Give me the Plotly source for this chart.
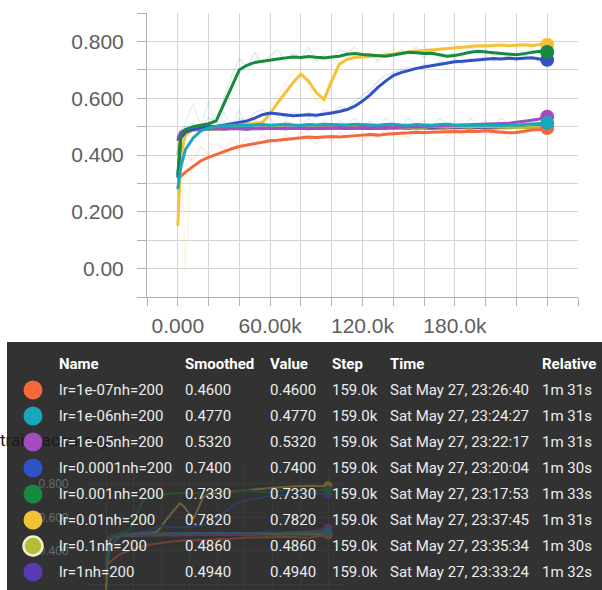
import plotly.graph_objects as go

# ---------------------------------------------------------------- data
steps_k = [0, 2, 5, 10, 15, 20, 25, 30, 35, 40,
           45, 50, 55, 60, 65, 70, 75, 80, 85, 90,
           95, 100, 105, 110, 115, 120, 125, 130, 135, 140,
           145, 150, 155, 160, 165, 170, 175, 180, 185, 190,
           195, 200, 205, 210, 215, 220, 225, 230, 235, 240]
steps = [s * 1000 for s in steps_k]

run_names = ["lr=1e-07nh=200", "lr=1e-06nh=200", "lr=1e-05nh=200", "lr=0.0001nh=200",
             "lr=0.001nh=200", "lr=0.01nh=200", "lr=0.1nh=200", "lr=1nh=200"]
run_colors = ["#f4683c", "#19a7bd", "#a64bbf", "#3152c6",
              "#168a3e", "#f3c13a", "#b3bd35", "#5a3ab3"]

smooth_lr1e7 = [0.315, 0.325, 0.340, 0.360, 0.380, 0.392, 0.403, 0.412, 0.422, 0.430,
                0.435, 0.440, 0.445, 0.450, 0.452, 0.455, 0.458, 0.462, 0.463, 0.462,
                0.464, 0.465, 0.463, 0.466, 0.468, 0.470, 0.472, 0.470, 0.473, 0.476,
                0.477, 0.478, 0.480, 0.479, 0.480, 0.482, 0.481, 0.483, 0.482, 0.484,
                0.483, 0.485, 0.483, 0.480, 0.478, 0.479, 0.484, 0.488, 0.490, 0.495]
smooth_lr1e6 = [0.280, 0.360, 0.420, 0.460, 0.485, 0.495, 0.500, 0.503, 0.505, 0.506,
                0.504, 0.506, 0.507, 0.505, 0.506, 0.508, 0.506, 0.505, 0.507, 0.506,
                0.508, 0.507, 0.505, 0.506, 0.508, 0.507, 0.506, 0.505, 0.507, 0.508,
                0.506, 0.505, 0.507, 0.506, 0.505, 0.507, 0.508, 0.506, 0.505, 0.504,
                0.506, 0.505, 0.503, 0.504, 0.506, 0.505, 0.507, 0.509, 0.511, 0.513]
smooth_lr1e5 = [0.460, 0.480, 0.487, 0.490, 0.491, 0.492, 0.493, 0.492, 0.494, 0.493,
                0.494, 0.493, 0.495, 0.494, 0.493, 0.495, 0.494, 0.496, 0.495, 0.494,
                0.496, 0.495, 0.497, 0.496, 0.495, 0.497, 0.496, 0.498, 0.497, 0.496,
                0.498, 0.499, 0.500, 0.501, 0.500, 0.502, 0.503, 0.504, 0.505, 0.506,
                0.507, 0.508, 0.509, 0.510, 0.512, 0.515, 0.518, 0.522, 0.527, 0.535]
smooth_lr1e4 = [0.320, 0.460, 0.480, 0.490, 0.495, 0.500, 0.500, 0.505, 0.510, 0.515,
                0.520, 0.530, 0.542, 0.548, 0.545, 0.540, 0.538, 0.540, 0.542, 0.540,
                0.543, 0.548, 0.553, 0.560, 0.572, 0.590, 0.612, 0.638, 0.660, 0.680,
                0.690, 0.698, 0.705, 0.710, 0.715, 0.720, 0.724, 0.728, 0.730, 0.733,
                0.736, 0.738, 0.740, 0.738, 0.741, 0.739, 0.740, 0.742, 0.738, 0.735]
smooth_lr1e3 = [0.330, 0.470, 0.490, 0.500, 0.505, 0.510, 0.520, 0.580, 0.640, 0.700,
                0.716, 0.726, 0.730, 0.735, 0.738, 0.742, 0.745, 0.743, 0.747, 0.744,
                0.742, 0.745, 0.748, 0.755, 0.757, 0.754, 0.752, 0.750, 0.748, 0.752,
                0.758, 0.762, 0.760, 0.757, 0.758, 0.752, 0.748, 0.750, 0.756, 0.762,
                0.765, 0.763, 0.760, 0.758, 0.755, 0.753, 0.757, 0.762, 0.765, 0.763]
smooth_lr1e2 = [0.150, 0.400, 0.470, 0.490, 0.495, 0.500, 0.500, 0.505, 0.505, 0.505,
                0.510, 0.510, 0.515, 0.545, 0.585, 0.620, 0.655, 0.685, 0.660, 0.620,
                0.595, 0.660, 0.720, 0.737, 0.743, 0.745, 0.747, 0.750, 0.752, 0.756,
                0.760, 0.762, 0.765, 0.767, 0.769, 0.771, 0.773, 0.776, 0.779, 0.782,
                0.785, 0.784, 0.786, 0.787, 0.785, 0.787, 0.788, 0.786, 0.789, 0.788]
smooth_lr1e1 = [0.400, 0.470, 0.480, 0.487, 0.490, 0.491, 0.492, 0.493, 0.492, 0.494,
                0.493, 0.494, 0.495, 0.494, 0.496, 0.495, 0.494, 0.496, 0.495, 0.497,
                0.496, 0.495, 0.497, 0.496, 0.498, 0.497, 0.496, 0.498, 0.497, 0.499,
                0.498, 0.497, 0.499, 0.498, 0.500, 0.499, 0.498, 0.500, 0.499, 0.498,
                0.500, 0.499, 0.498, 0.497, 0.496, 0.495, 0.496, 0.497, 0.498, 0.500]
smooth_lr1 = [0.450, 0.480, 0.488, 0.490, 0.491, 0.490, 0.492, 0.491, 0.493, 0.492,
              0.491, 0.493, 0.492, 0.494, 0.493, 0.492, 0.494, 0.493, 0.492, 0.494,
              0.493, 0.495, 0.494, 0.493, 0.495, 0.494, 0.493, 0.495, 0.494, 0.496,
              0.495, 0.494, 0.496, 0.495, 0.494, 0.496, 0.495, 0.497, 0.496, 0.495,
              0.497, 0.496, 0.495, 0.497, 0.496, 0.498, 0.497, 0.499, 0.500, 0.502]

raw_lr1e7 = [0.300, 0.340, 0.400, 0.380, 0.430, 0.400, 0.440, 0.420, 0.450, 0.430,
             0.460, 0.440, 0.470, 0.450, 0.440, 0.470, 0.450, 0.480, 0.460, 0.440,
             0.470, 0.450, 0.480, 0.460, 0.470, 0.450, 0.480, 0.460, 0.490, 0.470,
             0.480, 0.460, 0.490, 0.470, 0.480, 0.500, 0.470, 0.490, 0.470, 0.500,
             0.480, 0.490, 0.470, 0.480, 0.460, 0.490, 0.480, 0.500, 0.490, 0.500]
raw_lr1e6 = [0.260, 0.450, 0.520, 0.580, 0.500, 0.590, 0.490, 0.550, 0.500, 0.560,
             0.490, 0.520, 0.500, 0.530, 0.490, 0.520, 0.510, 0.500, 0.530, 0.500,
             0.520, 0.490, 0.520, 0.510, 0.530, 0.500, 0.520, 0.490, 0.530, 0.510,
             0.500, 0.530, 0.510, 0.520, 0.500, 0.530, 0.510, 0.520, 0.500, 0.530,
             0.510, 0.520, 0.500, 0.530, 0.510, 0.520, 0.500, 0.530, 0.510, 0.520]
raw_lr1e4 = [0.300, 0.470, 0.490, 0.500, 0.490, 0.510, 0.500, 0.520, 0.500, 0.530,
             0.520, 0.550, 0.560, 0.540, 0.550, 0.530, 0.550, 0.540, 0.550, 0.530,
             0.560, 0.550, 0.570, 0.560, 0.590, 0.610, 0.630, 0.660, 0.680, 0.690,
             0.700, 0.710, 0.700, 0.720, 0.710, 0.730, 0.720, 0.740, 0.720, 0.740,
             0.730, 0.750, 0.730, 0.740, 0.750, 0.730, 0.750, 0.740, 0.730, 0.740]
raw_lr1e3 = [0.300, 0.490, 0.500, 0.510, 0.500, 0.530, 0.520, 0.600, 0.680, 0.740,
             0.710, 0.760, 0.720, 0.750, 0.770, 0.730, 0.760, 0.740, 0.780, 0.730,
             0.750, 0.740, 0.770, 0.760, 0.780, 0.740, 0.760, 0.730, 0.760, 0.750,
             0.770, 0.760, 0.780, 0.740, 0.770, 0.740, 0.750, 0.760, 0.750, 0.780,
             0.760, 0.770, 0.750, 0.760, 0.740, 0.760, 0.750, 0.770, 0.760, 0.760]
raw_lr1e2 = [0.150, 0.450, -0.010, 0.500, 0.510, 0.490, 0.510, 0.500, 0.520, 0.500,
             0.510, 0.520, 0.530, 0.570, 0.610, 0.650, 0.690, 0.710, 0.640, 0.590,
             0.580, 0.710, 0.750, 0.740, 0.750, 0.740, 0.760, 0.750, 0.760, 0.770,
             0.760, 0.770, 0.760, 0.780, 0.770, 0.780, 0.770, 0.790, 0.780, 0.790,
             0.800, 0.780, 0.790, 0.800, 0.780, 0.790, 0.800, 0.780, 0.790, 0.790]

smoothed = {
    "lr=1e-07nh=200": smooth_lr1e7, "lr=1e-06nh=200": smooth_lr1e6,
    "lr=1e-05nh=200": smooth_lr1e5, "lr=0.0001nh=200": smooth_lr1e4,
    "lr=0.001nh=200": smooth_lr1e3, "lr=0.01nh=200": smooth_lr1e2,
    "lr=0.1nh=200": smooth_lr1e1, "lr=1nh=200": smooth_lr1,
}
raw = {
    "lr=1e-07nh=200": raw_lr1e7, "lr=1e-06nh=200": raw_lr1e6,
    "lr=0.0001nh=200": raw_lr1e4, "lr=0.001nh=200": raw_lr1e3,
    "lr=0.01nh=200": raw_lr1e2,
}
# drawing order (last on top)
draw_order = ["lr=1nh=200", "lr=0.1nh=200", "lr=1e-05nh=200", "lr=1e-07nh=200",
              "lr=0.01nh=200", "lr=0.0001nh=200", "lr=0.001nh=200", "lr=1e-06nh=200"]

x_tick_vals = [-20000, 0, 20000, 40000, 60000, 80000, 100000, 120000, 140000,
               160000, 180000, 200000, 220000, 240000, 260000]
x_tick_text = ["", "0.000", "", "", "60.00k", "", "", "120.0k", "", "",
               "180.0k", "", "", "", ""]
y_tick_vals = [-0.1, 0.0, 0.1, 0.2, 0.3, 0.4, 0.5, 0.6, 0.7, 0.8, 0.9]
y_tick_text = ["", "0.00", "", "0.200", "", "0.400", "", "0.600", "", "0.800", ""]
ghost_y_vals = [0.2, 0.4, 0.6, 0.8]
ghost_y_text = ["0.200", "0.400", "0.600", "0.800"]
ghost_title = "train_accuracy"

# tooltip table
tbl_header = ["Name", "Smoothed", "Value", "Step", "Time", "Relative"]
tbl_smoothed = [0.4600, 0.4770, 0.5320, 0.7400, 0.7330, 0.7820, 0.4860, 0.4940]
tbl_value = [0.4600, 0.4770, 0.5320, 0.7400, 0.7330, 0.7820, 0.4860, 0.4940]
tbl_step = ["159.0k"] * 8
tbl_time = ["Sat May 27, 23:26:40", "Sat May 27, 23:24:27", "Sat May 27, 23:22:17",
            "Sat May 27, 23:20:04", "Sat May 27, 23:17:53", "Sat May 27, 23:37:45",
            "Sat May 27, 23:35:34", "Sat May 27, 23:33:24"]
tbl_relative = ["1m 31s", "1m 31s", "1m 31s", "1m 30s", "1m 33s", "1m 31s", "1m 30s", "1m 32s"]

# ---------------------------------------------------------------- helpers
W, H = 602, 590


def fx(p):
    return p / W


def fy(p):
    return 1 - p / H


def hex_rgba(c, a):
    c = c.lstrip("#")
    r, g, b = int(c[0:2], 16), int(c[2:4], 16), int(c[4:6], 16)
    return f"rgba({r},{g},{b},{a})"


def blend(c, bg, t):
    c = c.lstrip("#"); bg = bg.lstrip("#")
    out = []
    for i in (0, 2, 4):
        a, b = int(c[i:i + 2], 16), int(bg[i:i + 2], 16)
        out.append(round(b + (a - b) * t))
    return "#%02x%02x%02x" % tuple(out)


color_of = dict(zip(run_names, run_colors))
TABLE_BG = "#323232"

fig = go.Figure()

# ---------------------------------------------------------------- main chart
for name in draw_order:
    if name in raw:
        fig.add_trace(go.Scatter(x=steps, y=raw[name], mode="lines",
                                 line=dict(color=hex_rgba(color_of[name], 0.14), width=1.5),
                                 showlegend=False, hoverinfo="skip"))
for name in draw_order:
    fig.add_trace(go.Scatter(x=steps, y=smoothed[name], mode="lines",
                             line=dict(color=color_of[name], width=3),
                             showlegend=False, name=name))
for name in draw_order:
    fig.add_trace(go.Scatter(x=[steps[-1]], y=[smoothed[name][-1]], mode="markers",
                             marker=dict(color=color_of[name], size=14),
                             showlegend=False, hoverinfo="skip"))

# ---------------------------------------------------------------- faded chart behind the tooltip
for name in draw_order:
    gc = blend(color_of[name], TABLE_BG, 0.32)
    fig.add_trace(go.Scatter(x=steps, y=smoothed[name], mode="lines",
                             line=dict(color=gc, width=2), xaxis="x3", yaxis="y3",
                             showlegend=False, hoverinfo="skip"))
    fig.add_trace(go.Scatter(x=[steps[-1]], y=[smoothed[name][-1]], mode="markers",
                             marker=dict(color=gc, size=9), xaxis="x3", yaxis="y3",
                             showlegend=False, hoverinfo="skip"))

# ---------------------------------------------------------------- tooltip (pixel-space overlay axis)
row_y = [390 + 26 * i for i in range(8)]
fig.add_trace(go.Scatter(x=[-4, 0], y=[row_y[0], row_y[2]], mode="text",
                         text=[ghost_title, ghost_title], textposition="middle right",
                         textfont=dict(family="Roboto", size=17, color="#1c1c1c"),
                         xaxis="x4", yaxis="y4", showlegend=False, hoverinfo="skip",
                         cliponaxis=False))
ring = ["rgba(0,0,0,0)"] * 8
ring[6] = "#f3efcf"
fig.add_trace(go.Scatter(x=[33] * 8, y=row_y, mode="markers",
                         marker=dict(color=run_colors, size=19,
                                     line=dict(color=ring, width=2.5)),
                         xaxis="x4", yaxis="y4", showlegend=False, hoverinfo="skip"))

shapes = [dict(type="rect", xref="paper", yref="paper", layer="below",
               x0=fx(7), x1=fx(602), y0=fy(590), y1=fy(342),
               fillcolor=TABLE_BG, line=dict(width=0))]

col_x = [57, 183, 268, 330, 388, 540]
annotations = []
for cx, htxt in zip(col_x, tbl_header):
    annotations.append(dict(x=fx(cx), y=fy(364), xref="paper", yref="paper",
                            xanchor="left", yanchor="middle", showarrow=False, text=htxt,
                            font=dict(family="Roboto", size=15, color="#ffffff", weight="bold")))
for i in range(8):
    cells = [run_names[i], f"{tbl_smoothed[i]:.4f}", f"{tbl_value[i]:.4f}",
             tbl_step[i], tbl_time[i], tbl_relative[i]]
    for cx, txt in zip(col_x, cells):
        annotations.append(dict(x=fx(cx), y=fy(row_y[i]), xref="paper", yref="paper",
                                xanchor="left", yanchor="middle", showarrow=False, text=txt,
                                font=dict(family="Roboto", size=15, color="#ececec")))

# ---------------------------------------------------------------- layout
tick_font = dict(family="Liberation Sans, Arial, sans-serif", size=21, color="#5e5e5e")
fig.update_layout(
    width=W, height=H, margin=dict(l=0, r=0, t=0, b=0, pad=0),
    paper_bgcolor="#ffffff", plot_bgcolor="rgba(0,0,0,0)",
    showlegend=False, shapes=shapes, annotations=annotations,
    xaxis=dict(domain=[fx(147), fx(578)], range=[-20000, 260000],
               tickvals=x_tick_vals, ticktext=x_tick_text, tickfont=tick_font,
               ticks="outside", ticklen=8, tickcolor="#b0b0b0",
               showgrid=True, gridcolor="#d4d4d4", gridwidth=1,
               showline=True, linecolor="#b0b0b0", zeroline=False,
               anchor="y", ticklabelstandoff=2),
    yaxis=dict(domain=[fy(297), fy(13)], range=[-0.1, 0.9],
               tickvals=y_tick_vals, ticktext=y_tick_text, tickfont=tick_font,
               ticks="outside", ticklen=9, tickcolor="#b0b0b0",
               showgrid=True, gridcolor="#d4d4d4", gridwidth=1,
               showline=True, linecolor="#b0b0b0", zeroline=False,
               anchor="x", ticklabelstandoff=9),
    xaxis3=dict(domain=[fx(87.5), fx(346.5)], range=[-20000, 260000], anchor="y3",
                dtick=30000, showticklabels=False, showgrid=True, gridcolor="#3a3a3a",
                zeroline=False, showline=False, ticks=""),
    yaxis3=dict(domain=[0, fy(467)], range=[0.167, 0.9], anchor="x3",
                tickvals=ghost_y_vals, ticktext=ghost_y_text,
                tickfont=dict(family="Liberation Sans, Arial, sans-serif", size=12, color="#6a6a6a"),
                showgrid=True, gridcolor="#3a3a3a", zeroline=False, showline=False,
                ticks="", ticklabelstandoff=18),
    xaxis4=dict(domain=[0, 1], range=[0, W], visible=False, anchor="y4", fixedrange=True),
    yaxis4=dict(domain=[0, 1], range=[H, 0], visible=False, anchor="x4", fixedrange=True),
)

fig.write_html("out.html")
